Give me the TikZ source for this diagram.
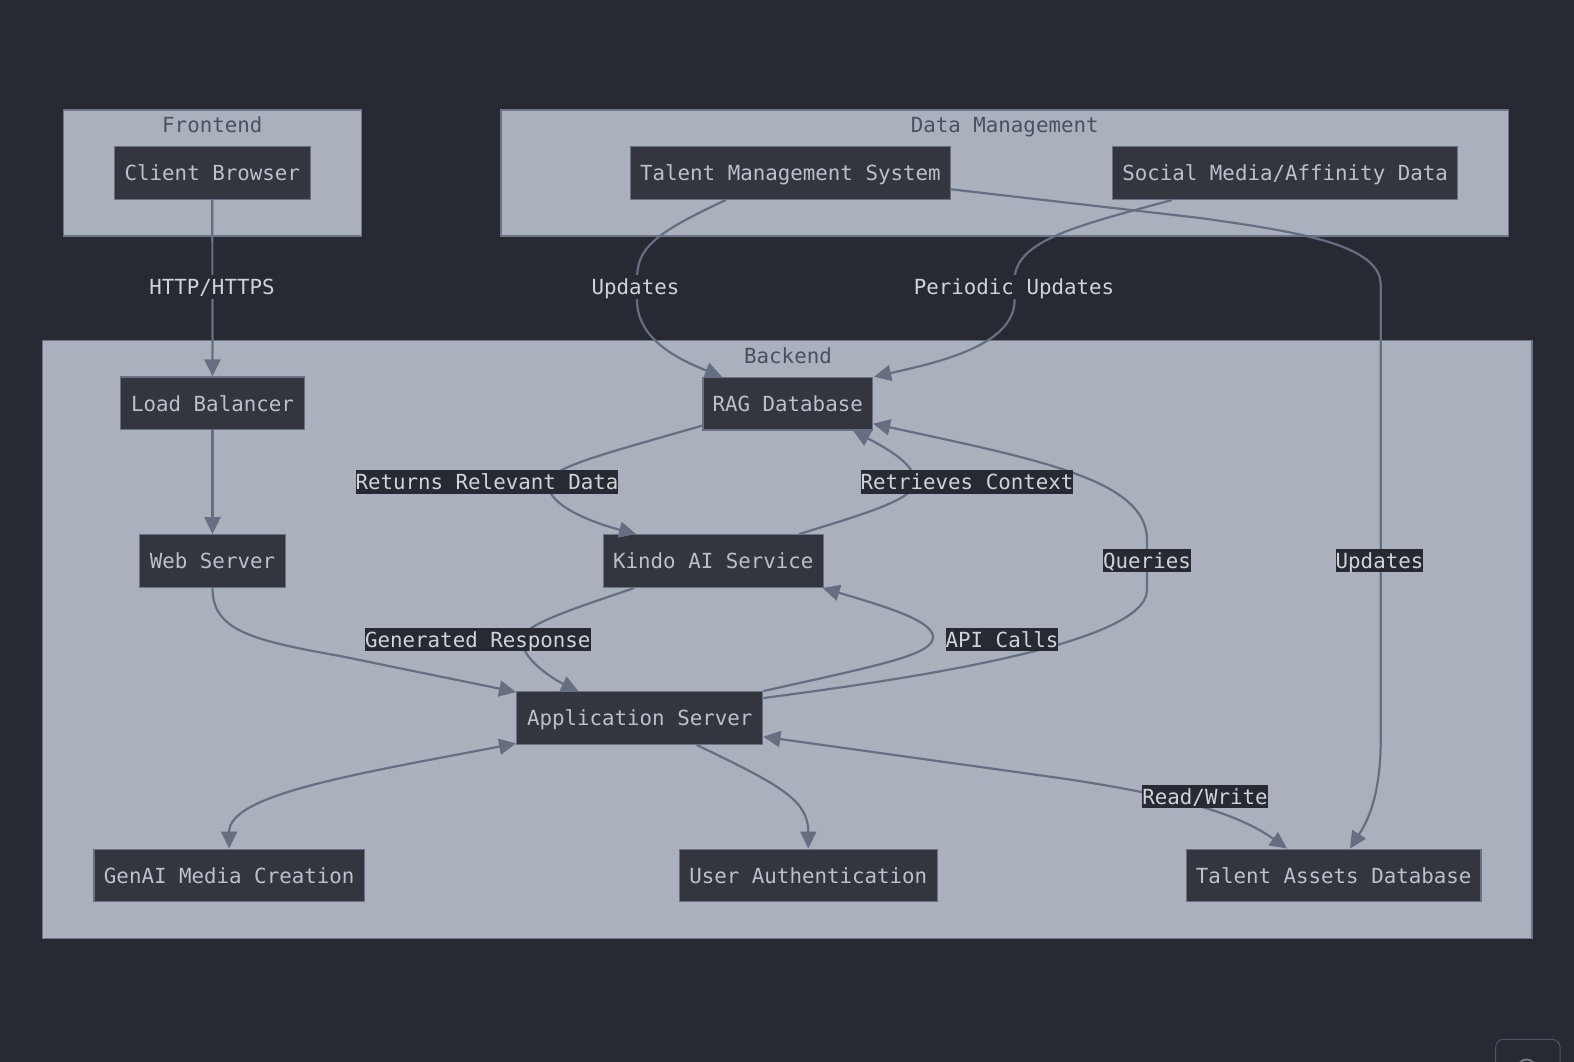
\documentclass[tikz,border=0pt]{standalone}
\usepackage{fontspec}
\newfontfamily\dmono{DejaVu Sans Mono}
\usetikzlibrary{arrows.meta}
\definecolor{bg}{HTML}{282A33}
\definecolor{clfill}{HTML}{AAB0BC}
\definecolor{clline}{HTML}{6E7588}
\definecolor{cltext}{HTML}{4A5061}
\definecolor{ndfill}{HTML}{33363F}
\definecolor{ndline}{HTML}{6A7184}
\definecolor{ndtext}{HTML}{BCC0CA}
\definecolor{edgecol}{HTML}{666E82}
\definecolor{lbtext}{HTML}{D0D3DA}
\definecolor{widget}{HTML}{4C5262}
\begin{document}
\begin{tikzpicture}[x=1pt,y=-1pt,
  txt/.style={font=\dmono\fontsize{20.8}{24}\selectfont, text height=15.5pt, text depth=0pt},
  box/.style={txt, draw=ndline, line width=1.3pt, fill=ndfill, text=ndtext, minimum height=52.6pt, inner sep=0pt},
  cluster/.style={draw=clline, line width=1.3pt, fill=clfill},
  cltitle/.style={txt, text=cltext, inner sep=0pt},
  elabel/.style={txt, fill=bg, text=lbtext, inner sep=0pt, minimum height=23.5pt},
  conn/.style={draw=edgecol, line width=2.2pt, -{Triangle[length=17pt,width=16pt]}},
  conntwo/.style={draw=edgecol, line width=2.2pt, {Triangle[length=17pt,width=16pt]}-{Triangle[length=17pt,width=16pt]}}
]
\useasboundingbox (0,0) rectangle (1574,1062);
\fill[bg] (0,0) rectangle (1574,1062);

% clusters
\draw[cluster] (63.3,110) rectangle (361.5,236);
\node[cltitle] (tFront) at (212.3,125) {Frontend};
\draw[cluster] (501,110) rectangle (1508.5,236);
\node[cltitle] (tData) at (1004.7,125) {Data Management};
\draw[cluster] (42.7,340.5) rectangle (1532,938.7);
\node[cltitle] (tBack) at (788,355.5) {Backend};

% nodes
\node[box, minimum width=196pt]   (cb)  at (212.3,173)  {Client Browser};
\node[box, minimum width=319.8pt] (tms) at (790.4,173)  {Talent Management System};
\node[box, minimum width=344.8pt] (sm)  at (1285.1,173) {Social Media/Affinity Data};
\node[box, minimum width=183.6pt] (lb)  at (212.5,403.3) {Load Balancer};
\node[box, minimum width=169.5pt] (rag) at (787.7,403.7) {RAG Database};
\node[box, minimum width=146.4pt] (web) at (212.5,561) {Web Server};
\node[box, minimum width=220pt]   (kindo) at (713.3,561) {Kindo AI Service};
\node[box, minimum width=246pt]   (app) at (639.7,718) {Application Server};
\node[box, minimum width=270.3pt] (gen) at (229.2,875.5) {GenAI Media Creation};
\node[box, minimum width=258pt]   (ua)  at (808.3,875.5) {User Authentication};
\node[box, minimum width=294.7pt] (tad) at (1333.7,875.5) {Talent Assets Database};

% edges
\draw[conn] (cb.south) -- (lb.north);
\draw[conn] (lb.south) -- (web.north);
\draw[conn] (web.south) .. controls (212.5,630) and (250,640) .. (340,656) -- ([yshift=-1pt]app.north west);
\draw[conn] ([xshift=-64.4pt]tms.south) .. controls (650,235) and (637,250) .. (637,280) -- (637,300)
   .. controls (637,340) and (680,360) .. ([xshift=-65.7pt]rag.north);
\draw[conn] ([xshift=-113pt]sm.south) .. controls (1080,225) and (1014.6,240) .. (1014.6,280) -- (1014.6,300)
   .. controls (1014.6,345) and (940,362) .. ([xshift=1pt]rag.north east);
\draw[conn] ([yshift=-16.3pt]tms.east) -- (1200,218) .. controls (1300,232) and (1380.7,245) .. (1380.7,285)
   -- (1380.7,740) .. controls (1380.7,800) and (1365,825) .. ([xshift=16.3pt]tad.north);
\draw[conn] ([yshift=5pt]rag.south west) .. controls (600,455) and (548,468) .. (548,484)
   .. controls (548,505) and (590,522) .. ([xshift=-77.3pt]kindo.north);
\draw[conn] ([xshift=86pt]kindo.north) .. controls (860,515) and (915,500) .. (915,482)
   .. controls (915,465) and (890,450) .. ([xshift=65.3pt]rag.south);
\draw[conn] (app.north east) .. controls (880,665) and (933,655) .. (933,637)
   .. controls (933,620) and (880,605) .. ([xshift=-1.3pt]kindo.south east);
\draw[conn] ([yshift=-7pt]app.north east) .. controls (900,680) and (1147,645) .. (1147,590) -- (1147,540)
   .. controls (1147,480) and (1040,460) .. ([yshift=-20pt]rag.east);
\draw[conn] ([xshift=-79pt]kindo.south) .. controls (570,610) and (522,625) .. (522,640)
   .. controls (522,660) and (555,680) .. ([xshift=-61.4pt]app.north);
\draw[conntwo] ([yshift=1.5pt]app.south west) .. controls (350,775) and (229,795) .. (gen.north);
\draw[conn] ([xshift=57pt]app.south) .. controls (780,785) and (808.3,800) .. (ua.north);
\draw[conntwo] ([yshift=-18.7pt]app.east) -- (1050,776.7) .. controls (1180,795) and (1240,815) .. ([xshift=-46.7pt]tad.north);

% edge labels
\node[elabel] (lHttp) at (212,287) {HTTP/HTTPS};
\node[elabel] (lUpd1) at (635.5,287) {Updates};
\node[elabel] (lPer) at (1014,287) {Periodic Updates};
\node[elabel] (lRet) at (487,482) {Returns Relevant Data};
\node[elabel] (lCtx) at (967,482) {Retrieves Context};
\node[elabel] (lGen) at (477.8,639.3) {Generated Response};
\node[elabel] (lApi) at (1002,639.3) {API Calls};
\node[elabel] (lQ) at (1147,560.7) {Queries};
\node[elabel] (lUpd2) at (1379.5,560.5) {Updates};
\node[elabel] (lRW) at (1205,796.7) {Read/Write};

% partial widget at bottom right
\begin{scope}
\clip (0,0) rectangle (1574,1062);
\draw[widget, line width=1pt, rounded corners=8pt] (1495.7,1039.3) rectangle (1560,1100);
\draw[widget!80!white, line width=2pt] (1526.5,1068) circle (8.5);
\end{scope}
\end{tikzpicture}
\end{document}
